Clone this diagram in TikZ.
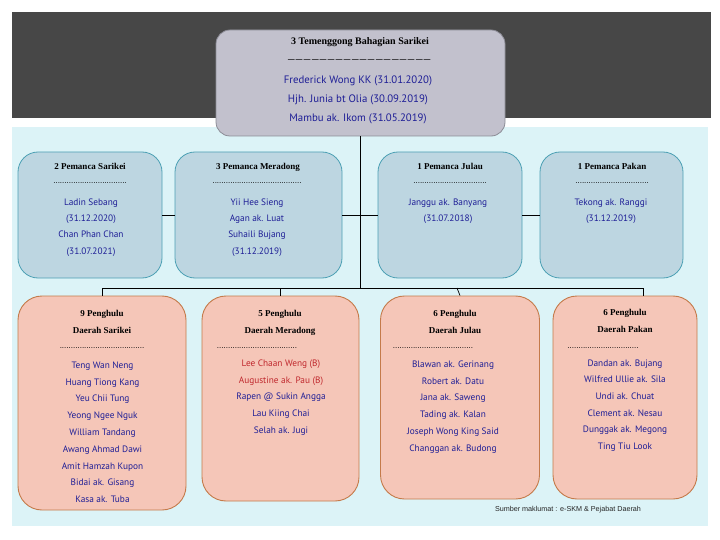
\documentclass[tikz,border=0pt]{standalone}
\usepackage{fontspec}
\setmainfont{PT Sans}
\newfontfamily\headfont{Liberation Serif}
\newfontfamily\dotfont{Liberation Sans}
\definecolor{darkband}{HTML}{474747}
\definecolor{lightbg}{HTML}{DCF3F7}
\definecolor{topfill}{HTML}{C2C1CD}
\definecolor{topborder}{HTML}{8C8C96}
\definecolor{bluefill}{HTML}{BDD6E1}
\definecolor{blueborder}{HTML}{4CA0B4}
\definecolor{pinkfill}{HTML}{F5C6B8}
\definecolor{pinkborder}{HTML}{C47A4A}
\definecolor{navyname}{HTML}{1E1E96}
\definecolor{redname}{HTML}{C0282D}
\newcommand\dotrow[1]{\foreach \k in {1,...,#1}{.}}
\newcommand\barrow[1]{\foreach \k in {1,...,#1}{\char`\_\kern1.5pt}}
\begin{document}
\begin{tikzpicture}[x=1pt,y=-1pt,
  topbox/.style={draw=topborder, fill=topfill, rounded corners=14pt, line width=0.8pt, inner sep=0pt},
  bluebox/.style={draw=blueborder, fill=bluefill, rounded corners=20pt, line width=0.8pt, inner sep=0pt, minimum height=126pt},
  pinkbox/.style={draw=pinkborder, fill=pinkfill, rounded corners=24pt, line width=0.9pt, inner sep=0pt},
  head/.style={font=\headfont\bfseries\fontsize{9}{17}\selectfont, inner sep=0pt, text=black, align=center, anchor=north},
  names/.style={align=center, inner sep=0pt, anchor=north, text=navyname},
  bnames/.style={names, font=\fontsize{9.3}{16.3}\selectfont},
  pnames/.style={names, font=\fontsize{9.3}{16.8}\selectfont},
  dotsty/.style={font=\dotfont\fontsize{8}{8}\selectfont, inner sep=0pt, anchor=base},
  link/.style={draw=black, line width=0.7pt}]
\useasboundingbox (0,0) rectangle (720,540);
\fill[white] (0,0) rectangle (720,540);
\fill[darkband] (12,12) rectangle (711,118);
\fill[lightbg] (12,127) rectangle (708,526);

% boxes
\node[topbox, minimum width=289pt, minimum height=106pt] (top) at (360.5,83) {};
\node[bluebox, minimum width=144pt] (b1) at (90,215) {};
\node[bluebox, minimum width=167pt] (b2) at (258.5,215) {};
\node[bluebox, minimum width=144pt] (b3) at (450,215) {};
\node[bluebox, minimum width=143pt] (b4) at (611.5,215) {};
\node[pinkbox, minimum width=168pt, minimum height=214pt] (pA) at (102,403) {};
\node[pinkbox, minimum width=157pt, minimum height=205pt] (pB) at (280.5,398.5) {};
\node[pinkbox, minimum width=159pt, minimum height=203pt] (pC) at (460,397.5) {};
\node[pinkbox, minimum width=144pt, minimum height=203pt] (pD) at (625,397.5) {};

% connectors
\coordinate (busM) at (360,288);
\coordinate (busR) at (643,288);
\draw[link] (top.south) -- (top.south |- busM);
\draw[link] (b1.east) -- (b2.west);
\draw[link] (b2.east) -- (b3.west);
\draw[link] (b3.east) -- (b4.west);
\draw[link] (pA.north |- busM) -- (busR);
\draw[link] (pA.north |- busM) -- (pA.north);
\draw[link] (pB.north |- busM) -- (pB.north);
\draw[link] ([xshift=-3pt]pC.north |- busM) -- (pC.north);
\draw[link] (busR) -- (busR |- pD.north);

% top texts
\node[head, font=\headfont\bfseries\fontsize{10}{12}\selectfont] (toph) at (360,37) {3 Temenggong Bahagian Sarikei};
\node[inner sep=0pt, anchor=base, font=\headfont\fontsize{13}{13}\selectfont] (topd) at (360,59) {\barrow{18}};
\node[names, font=\fontsize{10.8}{19}\selectfont] (topn) at (358,76) {Frederick Wong KK (31.01.2020)\\Hjh. Junia bt Olia (30.09.2019)\\Mambu ak. Ikom (31.05.2019)};

% blue texts
\node[head] (b1h) at (90,163) {2 Pemanca Sarikei};
\node[dotsty] (b1d) at (90,184) {\dotrow{33}};
\node[bnames] (b1n) at (91,198.5) {Ladin Sebang\\(31.12.2020)\\Chan Phan Chan\\(31.07.2021)};

\node[head] (b2h) at (258,163) {3 Pemanca Meradong};
\node[dotsty] (b2d) at (257,184) {\dotrow{40}};
\node[bnames] (b2n) at (257,198.5) {Yii Hee Sieng\\Agan ak. Luat\\Suhaili Bujang\\(31.12.2019)};

\node[head] (b3h) at (450,163) {1 Pemanca Julau};
\node[dotsty] (b3d) at (450,184) {\dotrow{33}};
\node[bnames] (b3n) at (448,198.5) {Janggu ak. Banyang\\(31.07.2018)};

\node[head] (b4h) at (612,163) {1 Pemanca Pakan};
\node[dotsty] (b4d) at (612,184) {\dotrow{33}};
\node[bnames] (b4n) at (611,198.5) {Tekong ak. Ranggi\\(31.12.2019)};

% pink texts
\node[head] (pAh) at (102,310) {9 Penghulu\\Daerah Sarikei};
\node[dotsty] (pAd) at (102,348) {\dotrow{38}};
\node[pnames] (pAn) at (102.5,361.5) {Teng Wan Neng\\Huang Tiong Kang\\Yeu Chii Tung\\Yeong Ngee Nguk\\William Tandang\\Awang Ahmad Dawi\\Amit Hamzah Kupon\\Bidai ak. Gisang\\Kasa ak. Tuba};

\node[head] (pBh) at (280,310) {5 Penghulu\\Daerah Meradong};
\node[dotsty] (pBd) at (257,348) {\dotrow{36}};
\node[pnames] (pBn) at (281,359.5) {\textcolor{redname}{Lee Chaan Weng (B)}\\\textcolor{redname}{Augustine ak. Pau (B)}\\Rapen @ Sukin Angga\\Lau Kiing Chai\\Selah ak. Jugi};

\node[head] (pCh) at (455,310) {6 Penghulu\\Daerah Julau};
\node[dotsty] (pCd) at (433,348) {\dotrow{36}};
\node[pnames] (pCn) at (453,360.5) {Blawan ak. Gerinang\\Robert ak. Datu\\Jana ak. Saweng\\Tading ak. Kalan\\Joseph Wong King Said\\Changgan ak. Budong};

\node[head] (pDh) at (625,309) {6 Penghulu\\Daerah Pakan};
\node[dotsty] (pDd) at (603,348) {\dotrow{32}};
\node[pnames, font=\fontsize{9.3}{16.6}\selectfont] (pDn) at (625,359.5) {Dandan ak. Bujang\\Wilfred Ullie ak. Sila\\Undi ak. Chuat\\Clement ak. Nesau\\Dunggak ak. Megong\\Ting Tiu Look};

% footer
\node[inner sep=0pt, font=\dotfont\fontsize{7.2}{8}\selectfont, text=black!85] (src) at (568,510) {Sumber maklumat : e-SKM \& Pejabat Daerah};
\end{tikzpicture}
\end{document}
